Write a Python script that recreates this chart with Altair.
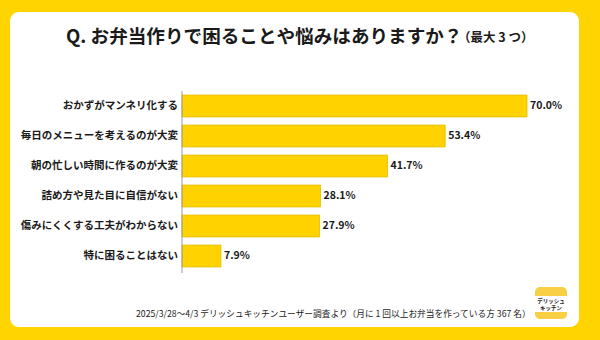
import altair as alt
import pandas as pd

categories = [
    "おかずがマンネリ化する",
    "毎日のメニューを考えるのが大変",
    "朝の忙しい時間に作るのが大変",
    "詰め方や見た目に自信がない",
    "傷みにくくする工夫がわからない",
    "特に困ることはない",
]
values = [70.0, 53.4, 41.7, 28.1, 27.9, 7.9]

title_main = "Q. お弁当作りで困ることや悩みはありますか？"
title_sub = "（最大 3 つ）"
footer = "2025/3/28～4/3 デリッシュキッチンユーザー調査より（月に 1 回以上お弁当を作っている方 367 名）"
logo_lines = ["デリッシュ", "キッチン"]

FONT = "Noto Sans CJK JP"
YELLOW = "#FFD400"
BAR = "#FFD200"
TXT = "#1a1a1a"

df = pd.DataFrame({"cat": categories, "v": values})
one = pd.DataFrame({"k": [0]})

xs = alt.Scale(domain=[0, 70], range=[182, 527])
ys = alt.Scale(domain=categories, range=[91, 271], paddingInner=0.27, paddingOuter=0.135)

panel = alt.Chart(one).mark_rect(color="white", cornerRadius=9).encode(
    x=alt.value(10), x2=alt.value(579), y=alt.value(12), y2=alt.value(327)
)

title1 = alt.Chart(one).mark_text(
    text=title_main, font=FONT, fontSize=18.6, fontWeight="bold", color=TXT,
    align="left", baseline="middle"
).encode(x=alt.value(66), y=alt.value(37))

title2 = alt.Chart(one).mark_text(
    text=title_sub, font=FONT, fontSize=12.5, fontWeight="bold", color=TXT,
    align="left", baseline="middle"
).encode(x=alt.value(458), y=alt.value(38))

bars = alt.Chart(df).mark_bar(color=BAR, stroke="#E3BC00", strokeWidth=0.8).encode(
    x=alt.X("v:Q", scale=xs, axis=None),
    x2=alt.value(182),
    y=alt.Y("cat:N", scale=ys, axis=None, sort=categories),
)

axis_line = alt.Chart(one).mark_rule(color="#9a9a9a", strokeWidth=1).encode(
    x=alt.value(182), y=alt.value(91), y2=alt.value(273)
)

cat_labels = alt.Chart(df).mark_text(
    font=FONT, fontSize=10.5, fontWeight="bold", color=TXT, align="right", baseline="middle"
).encode(
    x=alt.value(178),
    y=alt.Y("cat:N", scale=ys, axis=None, sort=categories, bandPosition=0.5),
    text="cat:N",
)

val_labels = alt.Chart(df).transform_calculate(
    lab="format(datum.v, '.1f') + '%'"
).mark_text(
    font=FONT, fontSize=10.5, fontWeight="bold", color=TXT, align="left", baseline="middle", dx=3
).encode(
    x=alt.X("v:Q", scale=xs, axis=None),
    y=alt.Y("cat:N", scale=ys, axis=None, sort=categories, bandPosition=0.5),
    text="lab:N",
)

foot = alt.Chart(one).mark_text(
    text=footer, font=FONT, fontSize=8.7, color=TXT, align="left", baseline="middle"
).encode(x=alt.value(136), y=alt.value(313.5))

logo_bg = alt.Chart(one).mark_rect(color="#F8CF45", cornerRadius=5).encode(
    x=alt.value(535), x2=alt.value(567), y=alt.value(287), y2=alt.value(319)
)
logo_band = alt.Chart(one).mark_rect(color="white").encode(
    x=alt.value(535), x2=alt.value(567), y=alt.value(296), y2=alt.value(312)
)
logo_t1 = alt.Chart(one).mark_text(
    text=logo_lines[0], font=FONT, fontSize=5.5, fontWeight="bold", color=TXT, align="center", baseline="middle"
).encode(x=alt.value(551), y=alt.value(300.5))
logo_t2 = alt.Chart(one).mark_text(
    text=logo_lines[1], font=FONT, fontSize=5.5, fontWeight="bold", color=TXT, align="center", baseline="middle"
).encode(x=alt.value(551), y=alt.value(307.5))

chart = alt.layer(
    panel, title1, title2, bars, axis_line, cat_labels, val_labels, foot,
    logo_bg, logo_band, logo_t1, logo_t2
).properties(
    width=600, height=340, padding=0,
    autosize=alt.AutoSizeParams(type="none"),
    background=YELLOW,
).configure_view(stroke=None)

chart.save("out.html", embed_options={"renderer": "svg", "actions": False})
